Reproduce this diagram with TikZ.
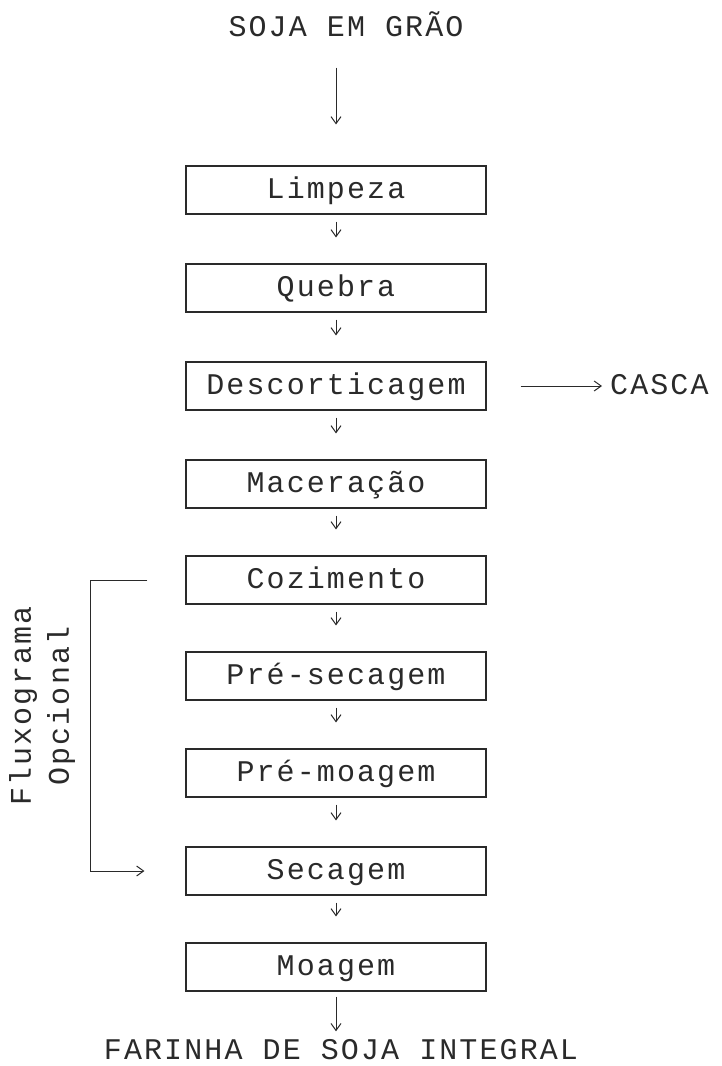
\documentclass[tikz,border=0pt]{standalone}
\usepackage{fontspec}
\newfontfamily\tw[LetterSpace=7]{Liberation Mono}
\usetikzlibrary{arrows.meta}
\definecolor{ink}{HTML}{2A2A2A}
\tikzset{
  stepbox/.style={draw=ink, line width=1.1pt, minimum width=300pt, minimum height=48pt,
    inner sep=0pt, text height=17pt, text depth=0pt, text=ink, font=\tw\fontsize{30}{36}\selectfont},
  lbl/.style={inner sep=0pt, text=ink, font=\tw\fontsize{30}{36}\selectfont},
  flow/.style={draw=ink, line width=1pt, -{Straight Barb[length=7pt,width=10pt]}},
}
\begin{document}
\begin{tikzpicture}[x=1pt,y=-1pt]
\useasboundingbox (0,0) rectangle (721,1066);
\node[lbl, text height=17pt, text depth=0pt] (soja) at (346,28) {SOJA EM GRÃO};
\node[stepbox] (limp) at (336,190) {Limpeza};
\node[stepbox] (queb) at (336,288) {Quebra};
\node[stepbox] (desc) at (336,386) {Descorticagem};
\node[stepbox] (mace) at (336,484) {Maceração};
\node[stepbox] (cozi) at (336,580) {Cozimento};
\node[stepbox] (psec) at (336,676) {Pré-secagem};
\node[stepbox] (pmoa) at (336,773) {Pré-moagem};
\node[stepbox] (seca) at (336,871) {Secagem};
\node[stepbox] (moag) at (336,967) {Moagem};
\node[lbl, anchor=west, text height=17pt, text depth=0pt] (casca) at (610,386) {CASCA};
\node[lbl, text height=17pt, text depth=0pt] (farinha) at (341,1051) {FARINHA DE SOJA INTEGRAL};
\node[lbl, rotate=90, align=center, font=\tw\fontsize{30}{38}\selectfont] (flux) at (42,706) {Fluxograma\\Opcional};

\draw[flow, shorten <=31pt, shorten >=41pt] (soja.south -| limp.north) -- (limp.north);
\foreach \a/\b in {limp/queb, queb/desc, desc/mace, mace/cozi, cozi/psec, psec/pmoa, pmoa/seca, seca/moag}
  \draw[flow, shorten <=7pt, shorten >=26pt] (\a.south) -- (\b.north);
\draw[flow, shorten <=5pt, shorten >=11pt] (moag.south) -- (moag.south |- farinha.north);
\draw[flow, shorten <=34pt, shorten >=8pt] (desc.east) -- (casca.west);
\draw[flow, shorten <=38pt, shorten >=41pt] (cozi.west) -- ++(-95,0) |- (seca.west);
\end{tikzpicture}
\end{document}
